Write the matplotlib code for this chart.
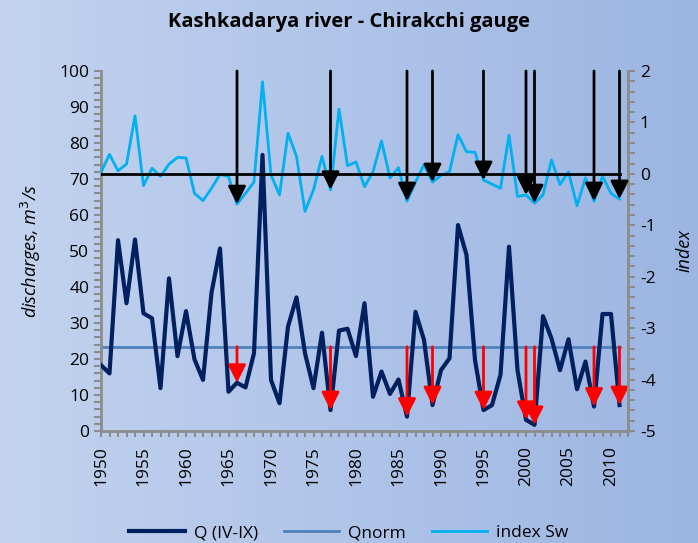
import numpy as np
import matplotlib
matplotlib.use("Agg")
import matplotlib.pyplot as plt
from matplotlib.ticker import MultipleLocator
from matplotlib.colors import LinearSegmentedColormap

years = list(range(1950, 2012))
q_values = [18.3, 16.0, 53.0, 35.5, 53.2, 32.7, 31.3, 11.9, 42.4, 20.8,
            33.3, 19.9, 14.2, 38.4, 50.7, 10.9, 13.4, 12.1, 21.6, 76.7,
            14.2, 7.7, 29.0, 37.1, 21.6, 11.9, 27.3, 5.8, 27.9, 28.4,
            20.8, 35.5, 9.5, 16.5, 10.3, 14.3, 4.0, 33.1, 25.3, 7.2,
            16.9, 20.2, 57.2, 48.9, 19.7, 5.8, 7.2, 15.6, 51.2, 16.9,
            3.1, 1.7, 31.9, 25.7, 16.9, 25.5, 11.6, 19.3, 6.8, 32.5,
            32.5, 7.2]
index_sw = [0.03, 0.38, 0.06, 0.19, 1.13, -0.23, 0.11, -0.05, 0.19, 0.32,
            0.31, -0.38, -0.52, -0.28, -0.01, -0.05, -0.59, -0.38, -0.16, 1.79,
            -0.02, -0.41, 0.79, 0.34, -0.73, -0.31, 0.34, -0.31, 1.26, 0.16,
            0.23, -0.25, 0.04, 0.64, -0.08, 0.12, -0.53, -0.16, 0.18, -0.16,
            -0.03, 0.04, 0.76, 0.43, 0.42, -0.12, -0.20, -0.28, 0.75, -0.44,
            -0.41, -0.57, -0.41, 0.27, -0.21, 0.04, -0.62, -0.08, -0.53, -0.05,
            -0.38, -0.49]
q_norm = 23.4
drought_years = [1966, 1977, 1986, 1989, 1995, 2000, 2001, 2008, 2011]
xtick_years = list(range(1950, 2011, 5))

title = "Kashkadarya river - Chirakchi gauge"
c_q = "#002060"
c_norm = "#4f81bd"
c_idx = "#00b0f0"
grey = "#8c8c8c"

plt.rcParams['font.family'] = ['Open Sans', 'DejaVu Sans']
plt.rcParams['axes.unicode_minus'] = False

fig = plt.figure(figsize=(6.98, 5.43), dpi=100)

# background gradient
bg = fig.add_axes([0, 0, 1, 1], zorder=-10)
grad = np.linspace(0, 1, 256).reshape(1, -1)
cmap = LinearSegmentedColormap.from_list("bg", ["#c3d3ef", "#9cb5e2"])
bg.imshow(grad, aspect='auto', cmap=cmap, extent=[0, 1, 0, 1])
bg.axis('off')

W, H = 698, 543
left, right, top, bottom = 101, 628, 71, 431
ax = fig.add_axes([left / W, 1 - bottom / H, (right - left) / W, (bottom - top) / H])
ax.set_facecolor('none')
ax2 = ax.twinx()
ax2.set_facecolor('none')

ax.set_xlim(1950, 2012)
ax.set_ylim(0, 100)
ax2.set_ylim(-5, 2)

# lines
ax.plot(years, q_values, color=c_q, lw=3, zorder=3, label="Q (IV-IX)")
ax.plot([years[0], years[-1]], [q_norm, q_norm], color=c_norm, lw=2, zorder=2, label="Qnorm")
ax2.plot(years, index_sw, color=c_idx, lw=2, zorder=2, label="index Sw")
ax2.plot([years[0], years[-1]], [0, 0], color='black', lw=2, zorder=3)

qmap = dict(zip(years, q_values))
imap = dict(zip(years, index_sw))
astyle = '-|>,head_length=0.9,head_width=0.45'
for y in drought_years:
    ax.annotate('', xy=(y, qmap[y]), xytext=(y, q_norm),
                arrowprops=dict(arrowstyle=astyle, color='red', lw=2,
                                shrinkA=0, shrinkB=0, mutation_scale=12),
                zorder=5)
    ax2.annotate('', xy=(y, imap[y]), xytext=(y, 2),
                 arrowprops=dict(arrowstyle=astyle, color='black', lw=2,
                                 shrinkA=0, shrinkB=0, mutation_scale=12),
                 zorder=5)

# axes styling
for a in (ax, ax2):
    a.spines['top'].set_visible(False)
    for s in ('left', 'right', 'bottom'):
        a.spines[s].set_color(grey)
        a.spines[s].set_linewidth(2)
ax.spines['right'].set_visible(False)
ax2.spines['left'].set_visible(False)
ax2.spines['bottom'].set_visible(False)

ax.yaxis.set_major_locator(MultipleLocator(10))
ax.yaxis.set_minor_locator(MultipleLocator(2))
ax2.yaxis.set_major_locator(MultipleLocator(1))
ax2.yaxis.set_minor_locator(MultipleLocator(0.2))
ax.set_xticks(xtick_years)
ax.set_xticklabels([str(v) for v in xtick_years], rotation=90)
ax.xaxis.set_minor_locator(MultipleLocator(1))

for a in (ax, ax2):
    a.tick_params(which='both', direction='out', color=grey, width=1.5, labelsize=12.5,
                  labelcolor='black')
    a.tick_params(which='major', length=5)
    a.tick_params(which='minor', length=5)
ax.tick_params(axis='x', which='both', length=4, pad=7)

ax.set_ylabel("discharges, m$^3$/s", fontsize=13, style='italic', labelpad=12)
ax2.set_ylabel("index", fontsize=13, style='italic', labelpad=14)

fig.text(0.5, 1 - 22 / H, title, ha='center', va='center', fontsize=14.5, fontweight='bold')

h1, l1 = ax.get_legend_handles_labels()
h2, l2 = ax2.get_legend_handles_labels()
leg = fig.legend(h1 + h2, l1 + l2, loc='center', bbox_to_anchor=(0.5, 1 - 533 / H), ncol=3,
                 frameon=False, fontsize=12.5, handlelength=3.2, columnspacing=1.5,
                 handletextpad=0.5)

fig.savefig("out.png", dpi=100)
